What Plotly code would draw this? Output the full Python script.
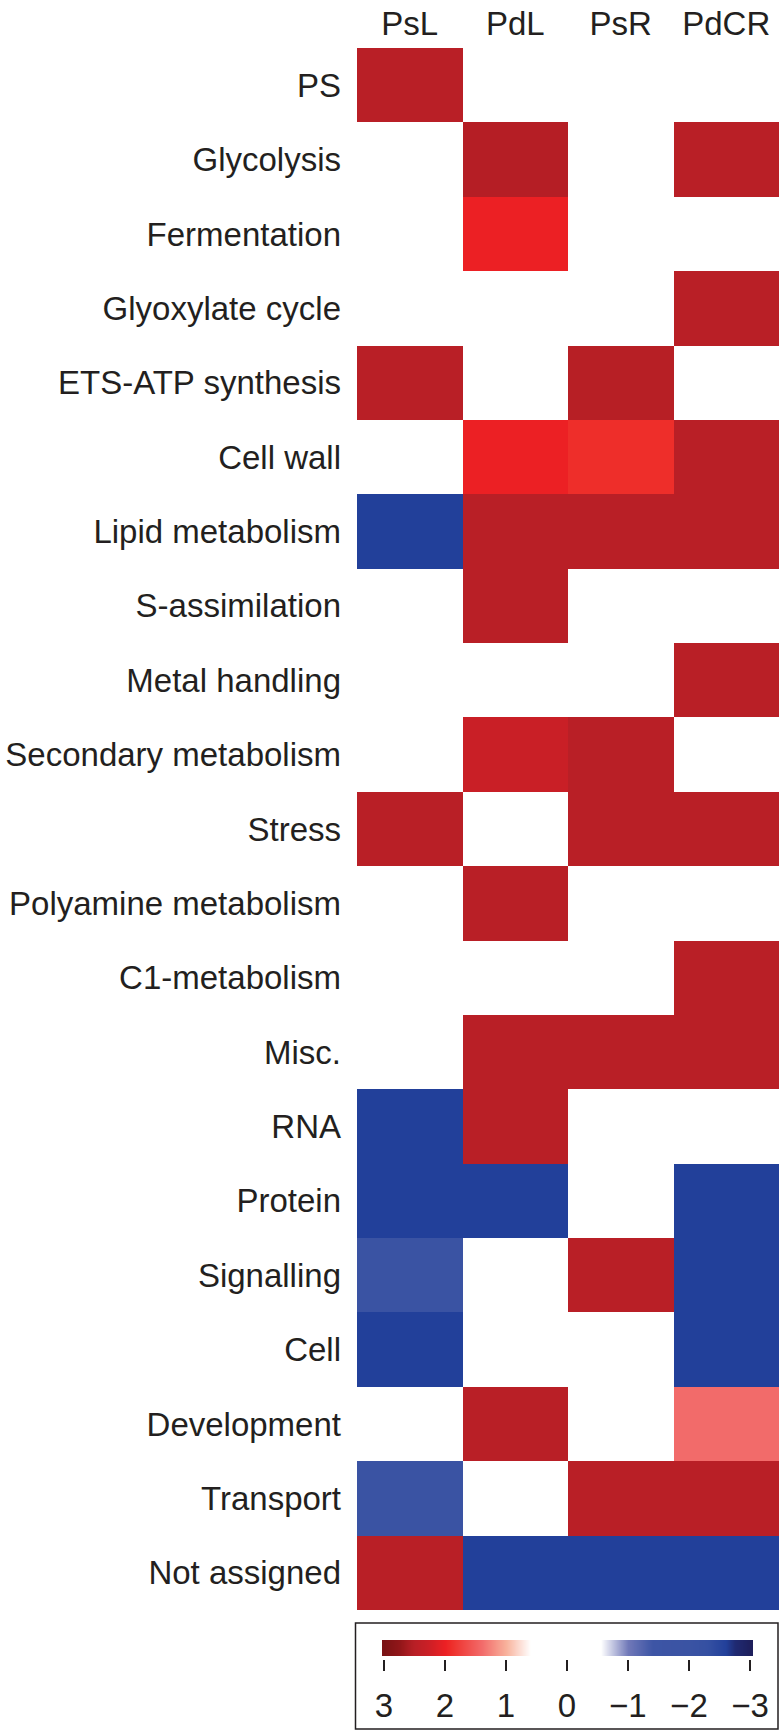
import plotly.graph_objects as go

# ---- data ----
columns = ["PsL", "PdL", "PsR", "PdCR"]
categories = ["PS", "Glycolysis", "Fermentation", "Glyoxylate cycle", "ETS-ATP synthesis",
              "Cell wall", "Lipid metabolism", "S-assimilation", "Metal handling",
              "Secondary metabolism", "Stress", "Polyamine metabolism", "C1-metabolism",
              "Misc.", "RNA", "Protein", "Signalling", "Cell", "Development",
              "Transport", "Not assigned"]
N = None
PsL  = [2.5, N, N, N, 2.5, N, -2.6, N, N, N, 2.5, N, N, N, -2.6, -2.6, -2.0, -2.6, N, -2.0, 2.5]
PdL  = [N, 2.53, 2.0, N, N, 2.0, 2.5, 2.5, N, 2.3, N, 2.5, N, 2.5, 2.5, -2.6, N, N, 2.5, N, -2.6]
PsR  = [N, N, N, N, 2.52, 1.9, 2.5, N, N, 2.5, 2.5, N, N, 2.5, N, N, 2.5, N, N, 2.5, -2.6]
PdCR = [N, 2.5, N, 2.5, N, 2.5, 2.5, N, 2.5, N, 2.5, N, 2.5, 2.5, N, -2.6, -2.6, -2.6, 1.4, 2.5, -2.6]
legend_ticks = [3, 2, 1, 0, -1, -2, -3]

z = [[PsL[i], PdL[i], PsR[i], PdCR[i]] for i in range(len(categories))]

stops = [(-3.0, "#1e1f5c"), (-2.75, "#1f2a72"), (-2.6, "#22409a"), (-2.3, "#3550a2"),
         (-2.0, "#3a53a3"), (-1.4, "#3d55a5"), (-1.0, "#7078b8"), (-0.55, "#ffffff"),
         (0.6, "#ffffff"), (1.0, "#f8b29c"), (1.4, "#f26b6a"), (1.9, "#ee2e2a"),
         (2.0, "#ec2024"), (2.3, "#c91f26"), (2.5, "#b91f26"), (2.55, "#b31e24"),
         (2.75, "#911619"), (3.0, "#7a1214")]
colorscale = [[(v + 3) / 6, c] for v, c in stops]

W, H = 780, 1731
L, T = 357, 48
plot_h = H - T
def fy(px):
    return (H - px) / plot_h
def fx(px):
    return (px - L) / (779 - L)

txt = "#231f20"
font = dict(family="Liberation Sans, Arial, sans-serif", size=33, color=txt)

fig = go.Figure()
fig.add_trace(go.Heatmap(z=z, x=columns, y=categories, colorscale=colorscale,
                         zmin=-3, zmax=3, showscale=False, hoverongaps=False,
                         xaxis="x", yaxis="y"))
fig.add_trace(go.Heatmap(z=[legend_ticks], x=legend_ticks, y=[0], colorscale=colorscale,
                         zmin=-3, zmax=3, showscale=False, zsmooth="best",
                         xaxis="x2", yaxis="y2", hoverinfo="skip"))

fig.update_layout(
    template="none",
    width=W, height=H,
    margin=dict(l=L, r=W - 779, t=T, b=0, pad=0, autoexpand=False),
    paper_bgcolor="white", plot_bgcolor="white",
    font=font,
    xaxis=dict(domain=[0, 1], side="top", anchor="y", showgrid=False, zeroline=False,
               showline=False, ticks="", ticklabelstandoff=5, tickfont=font,
               automargin=False, fixedrange=True),
    yaxis=dict(domain=[fy(1610), 1], autorange="reversed", showgrid=False, zeroline=False,
               showline=False, ticks="", ticklabelstandoff=15, tickfont=font,
               automargin=False, fixedrange=True),
    xaxis2=dict(domain=[fx(382), fx(753)], range=[3.03, -3.05], anchor="free",
                position=fy(1659), showgrid=False, zeroline=False, showline=False,
                ticks="outside", ticklen=11, tickwidth=1.5, tickcolor=txt,
                ticklabelstandoff=6, tickvals=legend_ticks, tickfont=font,
                automargin=False, fixedrange=True),
    yaxis2=dict(domain=[fy(1656), fy(1640)], range=[-0.5, 0.5], anchor="x2",
                visible=False, automargin=False, fixedrange=True),
    shapes=[dict(type="rect", xref="paper", yref="paper",
                 x0=fx(355.5), x1=fx(778), y0=fy(1729), y1=fy(1623),
                 line=dict(color=txt, width=1.5), fillcolor="rgba(0,0,0,0)")],
)

fig.write_html("out.html", config={"displayModeBar": False},
               post_script="document.body.style.margin='0';document.body.style.overflow='hidden';")
